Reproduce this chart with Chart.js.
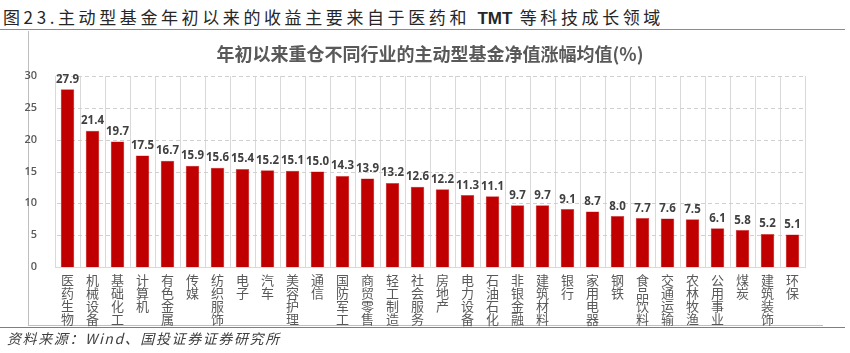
<!DOCTYPE html>
<html>
<head>
<meta charset="utf-8">
<script src="https://cdn.jsdelivr.net/npm/chart.js@4"></script>
<style>
  body { margin: 0; background: #fff; }
  #wrap { position: relative; width: 850px; height: 353px; overflow: hidden; }
  #chart { position: absolute; left: 0; top: 0; }
  .caption { position: absolute; left: 3px; top: 4px; font: 400 17px "Noto Sans CJK SC", sans-serif; letter-spacing: 3.6px; color: #262626; white-space: nowrap; }
  .caption b { font-family: "Liberation Sans", Arial, sans-serif; font-weight: 700; letter-spacing: 0; }
  .source { position: absolute; left: 7px; top: 328px; font: italic 14px "Noto Sans CJK SC", sans-serif; color: #404040; letter-spacing: 1.6px; white-space: nowrap; }
  .line { position: absolute; }
</style>
</head>
<body>
<div id="wrap">
  <div class="caption">图23.主动型基金年初以来的收益主要来自于医药和 <b>TMT</b> 等科技成长领域</div>
  <div class="line" style="left:0;top:29px;width:845px;height:1px;background:#8c8c8c"></div>
  <div class="line" style="left:28px;top:31px;width:1px;height:294px;background:#bfbfbf"></div>
  <div class="line" style="left:28px;top:325px;width:795px;height:1px;background:#bfbfbf"></div>
  <div class="line" style="left:0;top:327px;width:845px;height:1px;background:#7f7f7f"></div>
  <canvas id="chart" width="850" height="353"></canvas>
  <div class="source">资料来源：Wind、国投证券证券研究所</div>
</div>
<script>
const chartTitle = '年初以来重仓不同行业的主动型基金净值涨幅均值(%)';

const industries = [
  '医药生物', '机械设备', '基础化工', '计算机', '有色金属', '传媒', '纺织服饰', '电子',
  '汽车', '美容护理', '通信', '国防军工', '商贸零售', '轻工制造', '社会服务', '房地产',
  '电力设备', '石油石化', '非银金融', '建筑材料', '银行', '家用电器', '钢铁', '食品饮料',
  '交通运输', '农林牧渔', '公用事业', '煤炭', '建筑装饰', '环保'
];

const navGain = [
  27.9, 21.4, 19.7, 17.5, 16.7, 15.9, 15.6, 15.4,
  15.2, 15.1, 15.0, 14.3, 13.9, 13.2, 12.6, 12.2,
  11.3, 11.1, 9.7, 9.7, 9.1, 8.7, 8.0, 7.7,
  7.6, 7.5, 6.1, 5.8, 5.2, 5.1
];

const yMin = 0, yMax = 30, yStep = 5;

// dashed horizontal grid from the y scale ticks (dash drawn as small rects)
const dashedGrid = {
  id: 'dashedGrid',
  beforeDatasetsDraw(chart) {
    const { ctx, chartArea: a, scales: { y } } = chart;
    ctx.save();
    ctx.fillStyle = '#d0d0d0';
    y.ticks.forEach(t => {
      if (t.value === yMin) return;
      const py = Math.round(y.getPixelForValue(t.value));
      for (let x = a.left + 2; x < a.right; x += 7) {
        ctx.fillRect(x, py, Math.min(4, a.right - x), 1);
      }
    });
    ctx.restore();
  }
};

// value labels above each bar
const barLabels = {
  id: 'barLabels',
  afterDatasetsDraw(chart) {
    const ctx = chart.ctx;
    const meta = chart.getDatasetMeta(0);
    ctx.save();
    ctx.font = 'bold 11.5px "Open Sans", sans-serif';
    ctx.fillStyle = '#404040';
    ctx.textAlign = 'center';
    ctx.textBaseline = 'bottom';
    meta.data.forEach((bar, i) => {
      ctx.fillText(navGain[i].toFixed(1), bar.x, bar.y - 4);
    });
    ctx.restore();
  }
};

const chart = new Chart(document.getElementById('chart'), {
  type: 'bar',
  data: {
    labels: industries.map(s => s.split('')),
    datasets: [{
      data: navGain,
      backgroundColor: '#C00000',
      borderColor: '#d23c3c',
      borderWidth: 0.5,
      categoryPercentage: 1,
      barPercentage: 0.54
    }]
  },
  options: {
    responsive: false,
    animation: false,
    layout: { padding: { left: 23, right: 45, top: 35, bottom: 0 } },
    plugins: {
      legend: { display: false },
      tooltip: { enabled: false },
      title: {
        display: true,
        fullSize: false,
        text: chartTitle,
        color: '#595959',
        font: { family: '"Noto Sans CJK SC", sans-serif', size: 18, weight: 'bold', lineHeight: 1.2 },
        padding: { top: 8, bottom: 11 }
      }
    },
    scales: {
      x: {
        offset: true,
        grid: { offset: true, color: '#d9d9d9', drawTicks: false },
        border: { color: '#d9d9d9' },
        ticks: {
          autoSkip: false, maxRotation: 0, minRotation: 0,
          padding: 7,
          color: '#595959',
          font: { family: '"Noto Sans CJK SC", sans-serif', size: 13, lineHeight: 1.0 }
        },
        afterFit: s => { s.height = 86; }
      },
      y: {
        min: yMin, max: yMax,
        grid: { display: false },
        border: { display: true, color: '#d9d9d9' },
        ticks: {
          stepSize: yStep,
          padding: 10,
          color: '#595959',
          font: { family: '"Open Sans", sans-serif', size: 11, weight: '600' }
        }
      }
    }
  },
  plugins: [dashedGrid, barLabels]
});

// nudge padding so the plot area sits where the original one does
const area = { left: 55, right: 805, top: 76 };
const pad = chart.options.layout.padding;
pad.left += area.left - chart.chartArea.left;
pad.right += chart.chartArea.right - area.right;
pad.top += area.top - chart.chartArea.top;
chart.update();
</script>
</body>
</html>
